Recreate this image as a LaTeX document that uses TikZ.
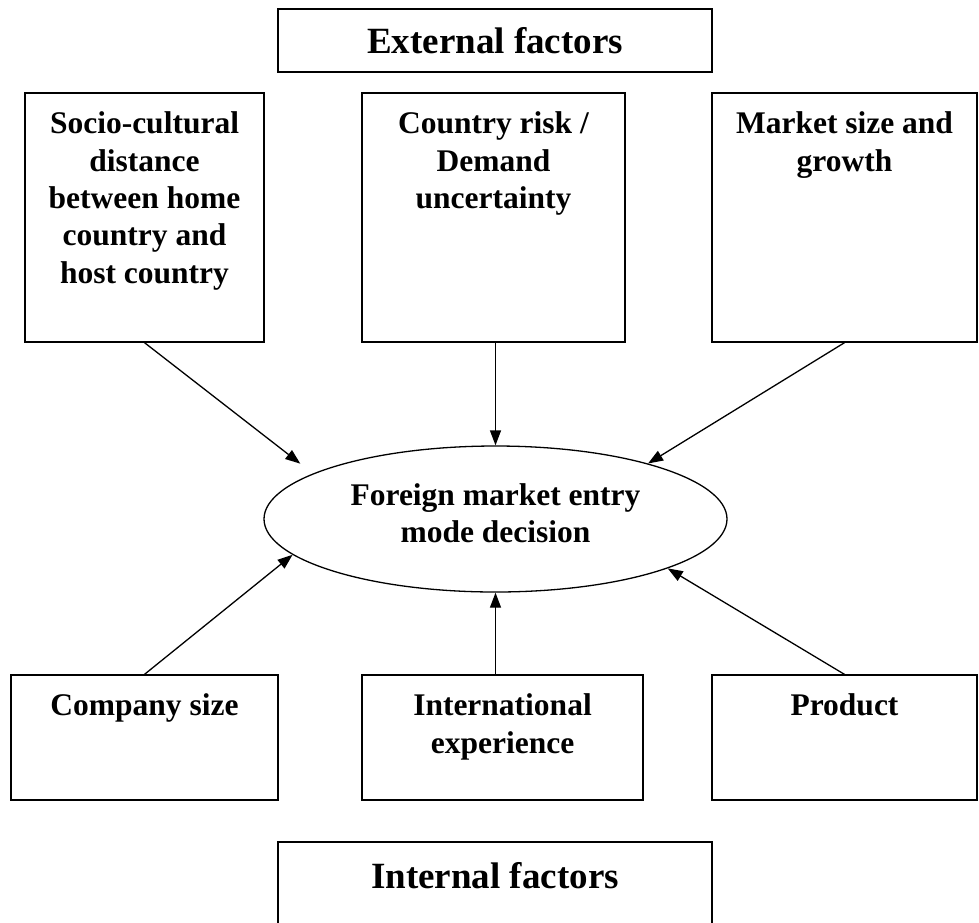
\documentclass[tikz,border=0pt]{standalone}
\usepackage{fontspec}
\setmainfont{Liberation Serif}
\usetikzlibrary{arrows.meta,shapes.geometric}

\begin{document}
\begin{tikzpicture}[x=1pt,y=-1pt,
    factorbox/.style={draw,line width=1.3pt,inner sep=0pt},
    topbox/.style={factorbox,minimum height=249pt},
    lowbox/.style={factorbox,minimum height=125pt},
    boxtext/.style={anchor=north,inner sep=0pt,yshift=-19.5pt,align=center,
        font=\fontsize{31.5}{37.3}\selectfont\bfseries},
    headtext/.style={font=\fontsize{37}{44}\selectfont\bfseries},
    arr/.style={-{Triangle[length=15pt,width=11pt]},line width=1.3pt}]
\path[use as bounding box,clip] (0,0) rectangle (979,922);

% factor groups
\node[factorbox,headtext,minimum width=434pt,minimum height=63pt] (ext) at (495,40.5) {External factors};
\node[factorbox,minimum width=434pt,minimum height=100pt,
    label={[headtext,anchor=north,inner sep=0pt,yshift=-21pt]north:Internal factors}] (int) at (495,892) {};

% external factors
\node[topbox,minimum width=239pt,label={[boxtext]north:Socio-cultural\\distance\\between home\\country and\\host country}] (socio) at (144.5,217.5) {};
\node[topbox,minimum width=263pt,label={[boxtext]north:Country risk /\\Demand\\uncertainty}] (country) at (493.5,217.5) {};
\node[topbox,minimum width=265pt,label={[boxtext]north:Market size and\\growth}] (market) at (844.5,217.5) {};

% internal factors
\node[lowbox,minimum width=267pt,label={[boxtext]north:Company size}] (company) at (144.5,737.5) {};
\node[lowbox,minimum width=281pt,label={[boxtext]north:International\\experience}] (intl) at (502.5,737.5) {};
\node[lowbox,minimum width=265pt,label={[boxtext]north:Product}] (product) at (844.5,737.5) {};

\node[ellipse,draw,line width=1.3pt,inner sep=0pt,minimum width=463pt,minimum height=146pt,
    label={[boxtext,anchor=center,yshift=25pt]center:Foreign market entry\\mode decision}] (decision) at (495.5,519) {};

\draw[arr,shorten >=16pt] (socio.south) -- (decision.166);
\draw[arr] (decision.north |- country.south) -- (decision.north);
\draw[arr] (market.south) -- (decision.20);
\draw[arr] (company.north) -- (decision.190);
\draw[arr] (decision.south |- intl.north) -- (decision.south);
\draw[arr] (product.north) -- (decision.344);
\end{tikzpicture}
\end{document}
